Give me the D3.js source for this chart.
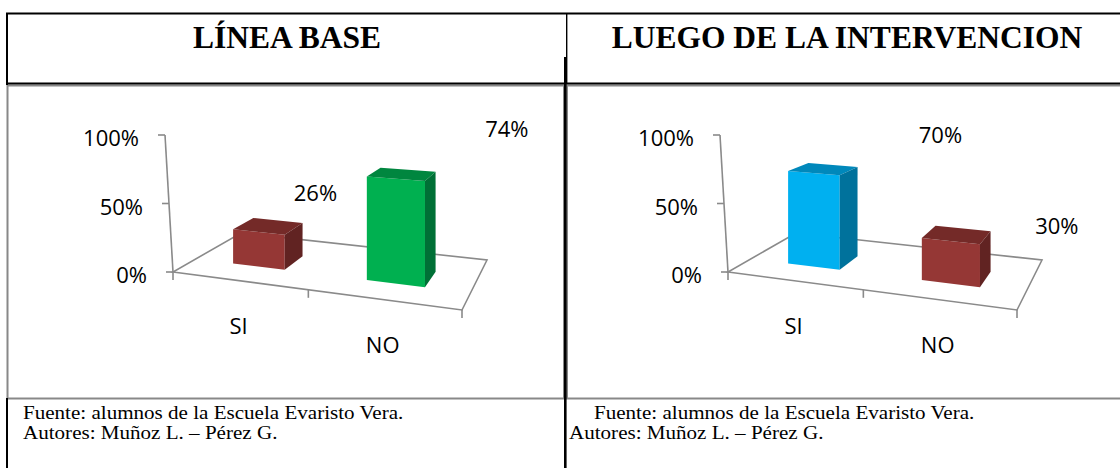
<!DOCTYPE html>
<html>
<head>
<meta charset="utf-8">
<script src="https://cdn.jsdelivr.net/npm/d3@7"></script>
<style>
  html, body { margin: 0; padding: 0; background: #fff; }
  svg { display: block; }
</style>
</head>
<body>
<svg id="chart" width="1120" height="468"></svg>
<script>
// ---- data ----
const categories = ["SI", "NO"];
const baselineValues = [0.26, 0.74];
const afterValues = [0.70, 0.30];
const yTickValues = [0, 0.5, 1];
const panelTitles = ["LÍNEA BASE", "LUEGO DE LA INTERVENCION"];
const sourceLines = ["Fuente: alumnos de la Escuela Evaristo Vera.", "Autores: Muñoz L. – Pérez G."];
const baselineColors = ["red", "green"];
const afterColors = ["blue", "red"];

// ---- styling / layout ----
const palette = {
  red:   { front: "#953735", top: "#742a28", side: "#612322" },
  green: { front: "#00b050", top: "#00863f", side: "#007036" },
  blue:  { front: "#00b0f0", top: "#0088bb", side: "#00729c" }
};
const axisGray = "#8a8a8a";
const chartFont = "'Open Sans', 'Noto Sans', sans-serif";
const docFont = "'Liberation Serif', 'Times New Roman', serif";

// floor quad of the 3-D plot (front-left, front-right, back-right, back-left), left panel
const floorQuad = [[173, 272], [462, 310], [487, 260], [241, 233]];
const fullHeight = 137;      // pixel height of 100% at the front-left corner
const axisLean = -8;         // value axis leans left as it rises
const panels = [
  { title: panelTitles[0], values: baselineValues, colors: baselineColors, dx: 0,
    titleX: 287, labelNudge: [[47, -34], [105, -46]], srcX: [23, 23] },
  { title: panelTitles[1], values: afterValues, colors: afterColors, dx: 555,
    titleX: 847, labelNudge: [[117, -35], [100, -10]], srcX: [594, 569] }
];

const svg = d3.select("#chart");
svg.append("rect").attr("width", 1120).attr("height", 468).attr("fill", "#fff");

// homography from the unit square (u across, v into depth) to the floor quad
function makeHomography(q) {
  const [[x0, y0], [x1, y1], [x2, y2], [x3, y3]] = q;
  const dx1 = x1 - x2, dx2 = x3 - x2, dx3 = x0 - x1 + x2 - x3;
  const dy1 = y1 - y2, dy2 = y3 - y2, dy3 = y0 - y1 + y2 - y3;
  const den = dx1 * dy2 - dx2 * dy1;
  const g = (dx3 * dy2 - dx2 * dy3) / den;
  const h = (dx1 * dy3 - dx3 * dy1) / den;
  const a = x1 - x0 + g * x1, b = x3 - x0 + h * x3, c = x0;
  const d = y1 - y0 + g * y1, e = y3 - y0 + h * y3, f = y0;
  return (u, v) => {
    const w = g * u + h * v + 1;
    return { x: (a * u + b * v + c) / w, y: (d * u + e * v + f) / w, w };
  };
}
const floorMap = makeHomography(floorQuad);

const xBand = d3.scaleBand().domain(categories).range([0, 1])
  .paddingInner(0.6).paddingOuter(0.3);
const yScale = d3.scaleLinear().domain([0, 1]).range([0, fullHeight]);
const depth = d3.scaleLinear().domain([0, 1]).range([0.3, 0.62]);
const pct = d3.format(".0%");

// ---- table frame ----
const frame = svg.append("g").attr("fill", "none");
// chart boxes (gray)
frame.append("rect").attr("x", 7.5).attr("y", 85.5).attr("width", 556.5).attr("height", 313)
  .attr("stroke", "#888").attr("stroke-width", 2);
frame.append("rect").attr("x", 567).attr("y", 85.5).attr("width", 560).attr("height", 313)
  .attr("stroke", "#888").attr("stroke-width", 2);
// black rules
const rules = [
  [6, 13.5, 1120, 13.5, 2],
  [6, 83.5, 1120, 83.5, 2],
  [7, 13, 7, 85, 2],
  [7, 398, 7, 468, 2],
  [566.7, 13, 566.7, 84, 1.4],
  [565.3, 57, 565.3, 468, 2.6]
];
frame.selectAll("line.rule").data(rules).join("line").attr("class", "rule")
  .attr("x1", d => d[0]).attr("y1", d => d[1]).attr("x2", d => d[2]).attr("y2", d => d[3])
  .attr("stroke", "#000").attr("stroke-width", d => d[4]);

panels.forEach(p => {
  const g = svg.append("g");
  const proj = (u, v, t) => {
    const f = floorMap(u, v);
    return [f.x + p.dx, f.y - yScale(t) / f.w];
  };
  const line = d3.line();

  // title
  g.append("text").attr("x", p.titleX).attr("y", 48).attr("text-anchor", "middle")
    .attr("font-family", docFont).attr("font-weight", "bold").attr("font-size", 31.5)
    .attr("fill", "#000").text(p.title);

  // floor outline
  const floorPts = [[0, 0], [1, 0], [1, 1], [0, 1]].map(([u, v]) => proj(u, v, 0));
  g.append("path").attr("d", line(floorPts) + "Z").attr("fill", "none")
    .attr("stroke", axisGray).attr("stroke-width", 1.6);

  // category ticks on the front edge
  const edges = [0, xBand(categories[1]) - xBand.step() * xBand.paddingInner() / 2, 1];
  g.selectAll("line.ctick").data(edges).join("line").attr("class", "ctick")
    .each(function (u) {
      const [x, y] = proj(u, 0, 0);
      d3.select(this).attr("x1", x).attr("y1", y).attr("x2", x).attr("y2", y + 8);
    })
    .attr("stroke", axisGray).attr("stroke-width", 1.6);

  // value axis
  const axisPt = t => { const [x, y] = proj(0, 0, t); return [x + axisLean * t, y]; };
  g.append("path").attr("d", line([axisPt(0), axisPt(1)])).attr("fill", "none")
    .attr("stroke", axisGray).attr("stroke-width", 1.6);
  const ticks = g.selectAll("g.ytick").data(yTickValues).join("g").attr("class", "ytick");
  ticks.append("line")
    .attr("x1", t => axisPt(t)[0] - 7).attr("x2", t => axisPt(t)[0])
    .attr("y1", t => axisPt(t)[1]).attr("y2", t => axisPt(t)[1])
    .attr("stroke", axisGray).attr("stroke-width", 1.6);
  ticks.append("text")
    .attr("x", t => axisPt(t)[0] - 26).attr("y", t => axisPt(t)[1] + 2)
    .attr("text-anchor", "end").attr("dominant-baseline", "central")
    .attr("font-family", chartFont).attr("font-size", 22).attr("fill", "#000")
    .text(t => pct(t));

  // bars
  const v0 = depth(0), v1 = depth(1);
  const bars = categories.map((c, i) => ({ c, i, value: p.values[i], col: palette[p.colors[i]] }));
  const bg = g.selectAll("g.bar").data(bars).join("g").attr("class", "bar");
  bg.each(function (d) {
    const u0 = xBand(d.c), u1 = u0 + xBand.bandwidth();
    const sel = d3.select(this);
    const front = [proj(u0, v0, 0), proj(u1, v0, 0), proj(u1, v0, d.value), proj(u0, v0, d.value)];
    const top = [proj(u0, v0, d.value), proj(u1, v0, d.value), proj(u1, v1, d.value), proj(u0, v1, d.value)];
    const side = [proj(u1, v0, 0), proj(u1, v1, 0), proj(u1, v1, d.value), proj(u1, v0, d.value)];
    sel.append("path").attr("d", line(front) + "Z").attr("fill", d.col.front);
    sel.append("path").attr("d", line(top) + "Z").attr("fill", d.col.top);
    sel.append("path").attr("d", line(side) + "Z").attr("fill", d.col.side);
  });

  // value labels
  bars.forEach(d => {
    const uc = xBand(d.c) + xBand.bandwidth() / 2;
    const [x, y] = proj(uc, depth(0.5), d.value);
    g.append("text").attr("x", x + p.labelNudge[d.i][0]).attr("y", y + p.labelNudge[d.i][1])
      .attr("text-anchor", "middle").attr("dominant-baseline", "central")
      .attr("font-family", chartFont).attr("font-size", 22).attr("fill", "#000")
      .text(pct(d.value));
  });

  // category labels
  categories.forEach(c => {
    const uc = xBand(c) + xBand.bandwidth() / 2;
    const [x, y] = proj(uc, 0, 0);
    g.append("text").attr("x", x).attr("y", y + 44)
      .attr("text-anchor", "middle").attr("dominant-baseline", "central")
      .attr("font-family", chartFont).attr("font-size", 22).attr("fill", "#000")
      .text(c);
  });

  // source lines (slightly widened serif, as set in the document)
  sourceLines.forEach((s, k) => {
    const t = g.append("text").attr("x", p.srcX[k]).attr("y", 418.5 + k * 20)
      .attr("font-family", docFont).attr("font-size", 18).attr("fill", "#000").text(s);
    const natural = t.node().getComputedTextLength();
    t.attr("textLength", natural * 1.17).attr("lengthAdjust", "spacingAndGlyphs");
  });
});
</script>
</body>
</html>
